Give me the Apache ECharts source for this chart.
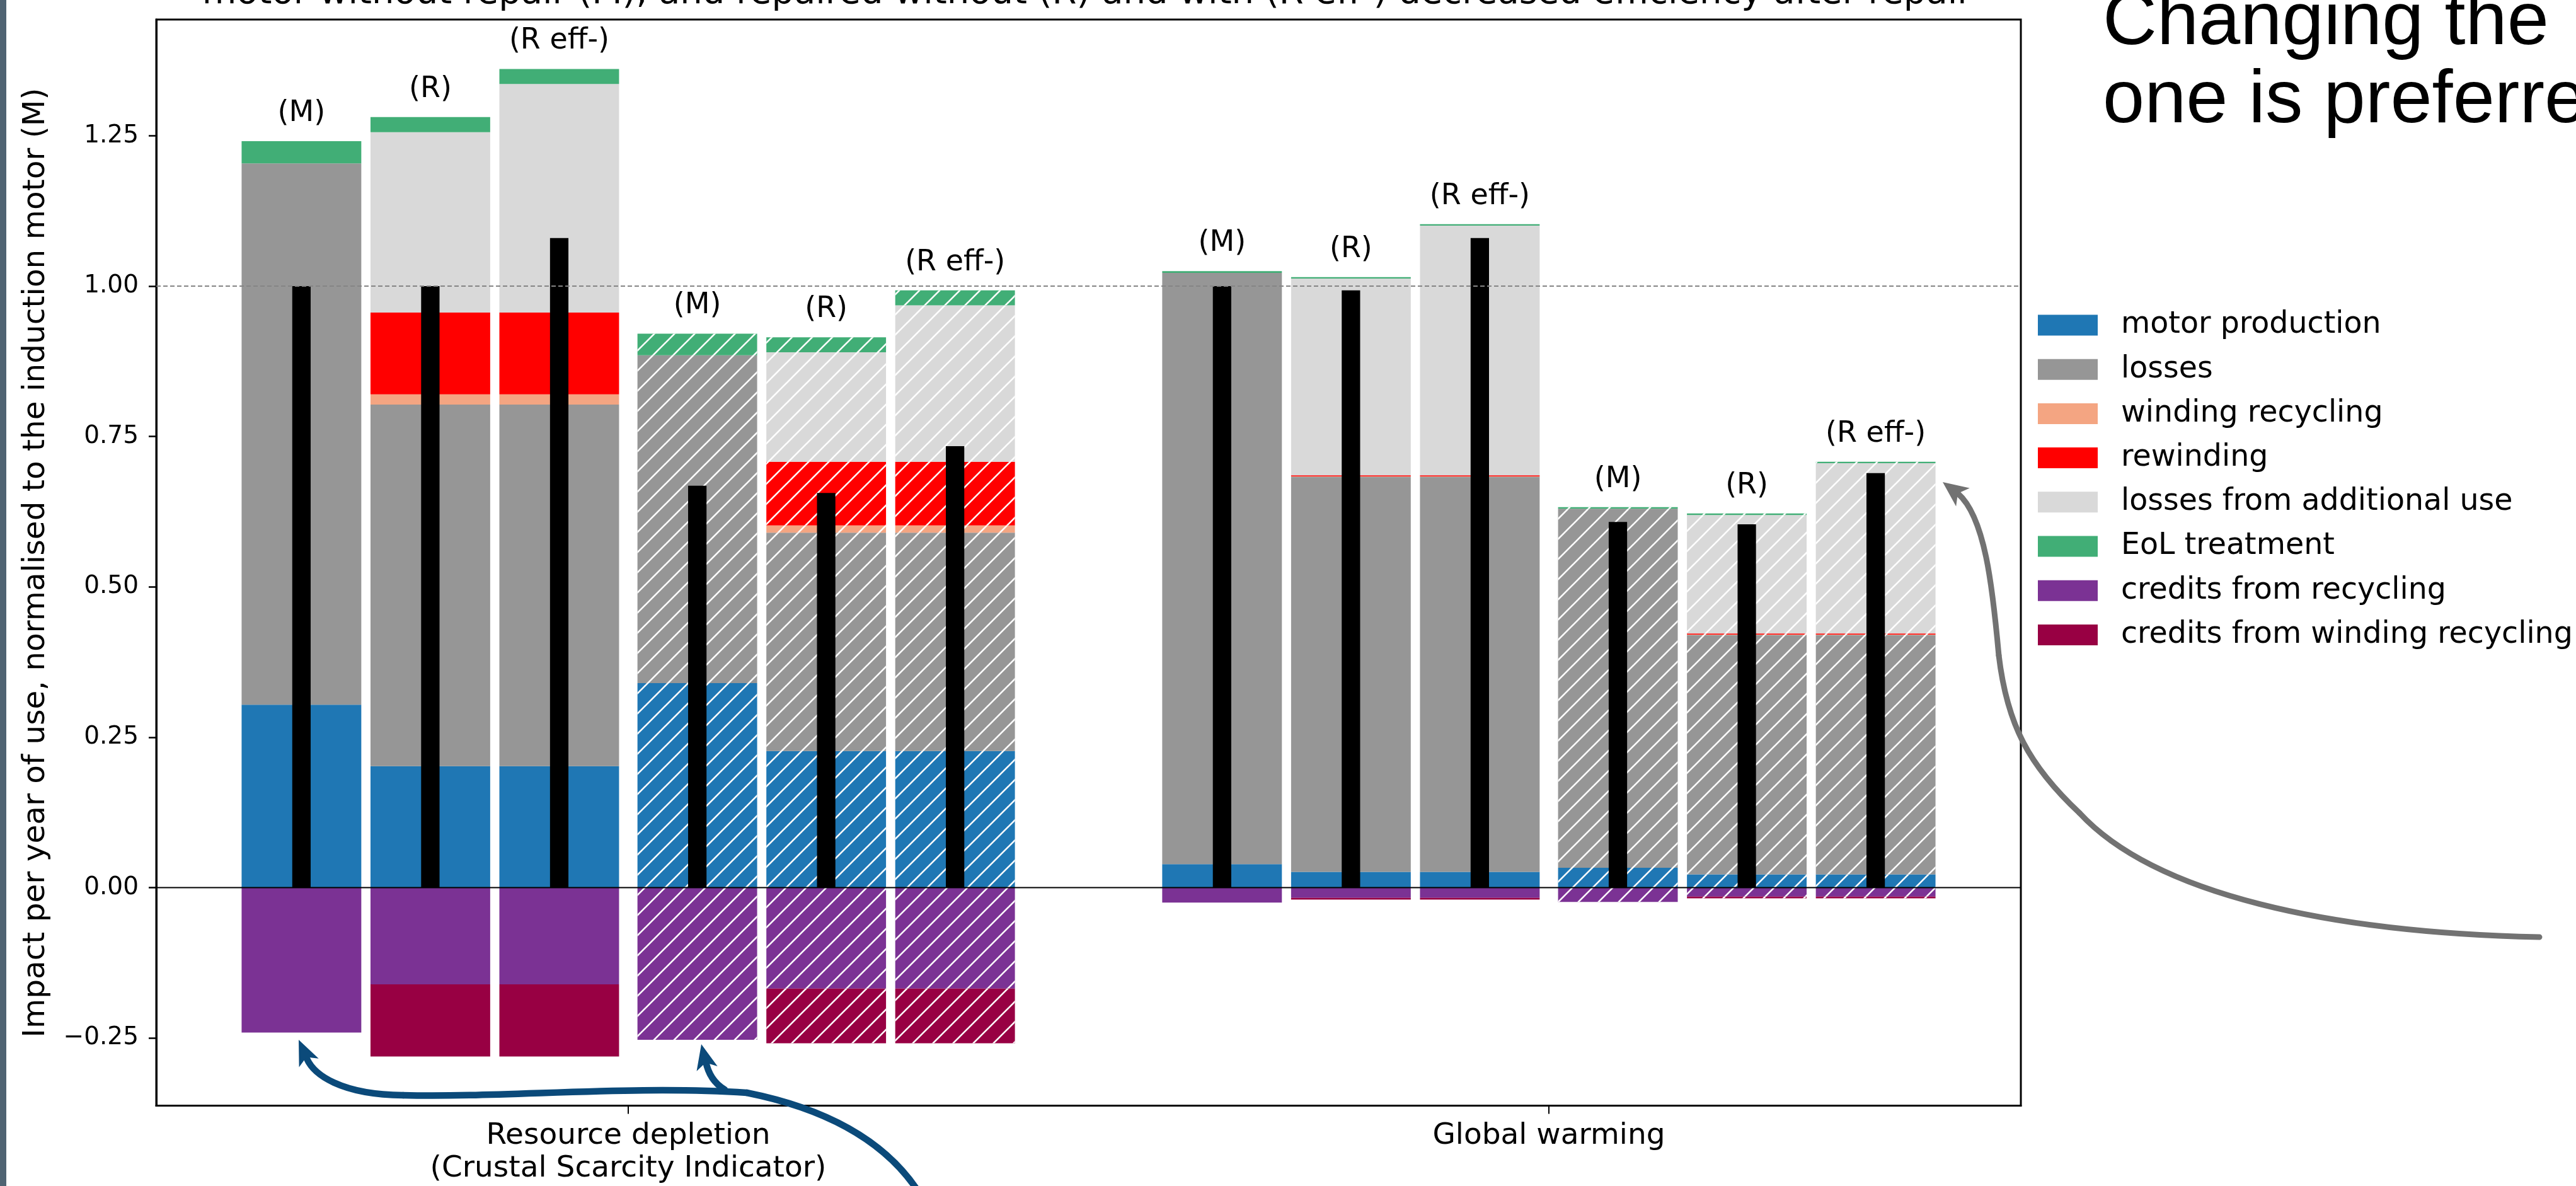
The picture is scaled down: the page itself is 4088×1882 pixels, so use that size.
<!DOCTYPE html>
<html>
<head>
<meta charset="utf-8">
<script src="https://cdn.jsdelivr.net/npm/echarts@6/dist/echarts.min.js"></script>
<style>
  html, body { margin: 0; padding: 0; background: #ffffff; }
  #chart { width: 4088px; height: 1882px; }
</style>
</head>
<body>
<div id="chart"></div>
<script>
// ---- data -------------------------------------------------------------
// Two impact categories, each with six bars: (M), (R), (R eff-) solid, then the same three hatched.
const impactCategories = ['Resource depletion\n(Crustal Scarcity Indicator)', 'Global warming'];
const scenarioLabels = ['(M)', '(R)', '(R eff-)', '(M)', '(R)', '(R eff-)'];
const hatchedScenario = [false, false, false, true, true, true];

// Contributions per bar (Resource depletion bars 1-6, then Global warming bars 1-6)
const motorProduction        = [0.304, 0.202, 0.202, 0.340, 0.227, 0.227, 0.039, 0.026, 0.026, 0.033, 0.022, 0.022];
const losses                 = [0.900, 0.601, 0.601, 0.545, 0.363, 0.363, 0.983, 0.657, 0.657, 0.597, 0.398, 0.398];
const windingRecycling       = [0, 0.017, 0.017, 0, 0.012, 0.012, 0, 0.0005, 0.0005, 0, 0.0005, 0.0005];
const rewinding              = [0, 0.136, 0.136, 0, 0.106, 0.106, 0, 0.002, 0.002, 0, 0.002, 0.002];
const lossesAdditionalUse    = [0, 0.300, 0.380, 0, 0.182, 0.260, 0, 0.327, 0.415, 0, 0.197, 0.283];
const eolTreatment           = [0.037, 0.025, 0.025, 0.036, 0.025, 0.025, 0.003, 0.0025, 0.0025, 0.0025, 0.0025, 0.0025];
const creditsRecycling       = [-0.241, -0.161, -0.161, -0.253, -0.168, -0.168, -0.025, -0.017, -0.017, -0.024, -0.015, -0.015];
const creditsWindingRecycling= [0, -0.120, -0.120, 0, -0.091, -0.091, 0, -0.003, -0.003, 0, -0.003, -0.003];
// Net impact (black bars)
const netImpact              = [1.000, 1.000, 1.080, 0.668, 0.656, 0.734, 1.000, 0.993, 1.080, 0.608, 0.604, 0.689];

const yTickValues = [-0.25, 0, 0.25, 0.5, 0.75, 1.0, 1.25];
const yTickLabels = ['\u22120.25', '0.00', '0.25', '0.50', '0.75', '1.00', '1.25'];

// ---- layout -----------------------------------------------------------
const X_MIN = -0.5127, X_MAX = 1.5127;
const Y_MIN = -0.3626, Y_MAX = 1.4432;
const SLOT_OFFSETS = [-0.355, -0.215, -0.075, 0.075, 0.215, 0.355];
const BAR_WIDTH = 0.13;
const NET_BAR_WIDTH = 0.02;
const FONT = '"DejaVu Sans", sans-serif';

const components = [
  { name: 'motor production',               values: motorProduction,         color: '#1f77b4', negative: false },
  { name: 'losses',                          values: losses,                  color: '#969696', negative: false },
  { name: 'winding recycling',               values: windingRecycling,        color: '#f4a582', negative: false },
  { name: 'rewinding',                       values: rewinding,               color: '#ff0000', negative: false },
  { name: 'losses from additional use',      values: lossesAdditionalUse,     color: '#d9d9d9', negative: false },
  { name: 'EoL treatment',                   values: eolTreatment,            color: '#41ae76', negative: false },
  { name: 'credits from recycling',          values: creditsRecycling,        color: '#7b3294', negative: true },
  { name: 'credits from winding recycling',  values: creditsWindingRecycling, color: '#980043', negative: true }
];

function barCenter(i) {
  return Math.floor(i / 6) + SLOT_OFFSETS[i % 6];
}

function stackBase(ci, i) {
  let base = 0;
  for (let k = 0; k < ci; k++) {
    if (components[k].negative === components[ci].negative) base += components[k].values[i];
  }
  return base;
}

function positiveTop(i) {
  let top = 0;
  components.forEach(c => { if (!c.negative) top += c.values[i]; });
  return top;
}

// white '/' hatch tile
function makeHatch() {
  const size = 32;
  const cv = document.createElement('canvas');
  cv.width = size; cv.height = size;
  const ctx = cv.getContext('2d');
  ctx.strokeStyle = '#ffffff';
  ctx.lineWidth = 2.6;
  for (const o of [-size, 0, size]) {
    ctx.beginPath();
    ctx.moveTo(o - 3, size + 3);
    ctx.lineTo(o + size + 3, -3);
    ctx.stroke();
  }
  return cv;
}
const hatchTile = makeHatch();

function rectBetween(api, xc, width, y0, y1) {
  const a = api.coord([xc - width / 2, y0]);
  const b = api.coord([xc + width / 2, y1]);
  return {
    x: Math.min(a[0], b[0]),
    y: Math.min(a[1], b[1]),
    width: Math.abs(b[0] - a[0]),
    height: Math.abs(b[1] - a[1])
  };
}

const componentSeries = components.map((comp, ci) => ({
  type: 'custom',
  name: comp.name,
  z: 2,
  itemStyle: { color: comp.color },
  encode: { x: 0, y: 1 },
  data: comp.values.map((v, i) => [barCenter(i), v]),
  renderItem: function (params, api) {
    const i = params.dataIndex;
    const v = comp.values[i];
    if (!v) return null;
    const base = stackBase(ci, i);
    const shape = rectBetween(api, api.value(0), BAR_WIDTH, base, base + v);
    const children = [{ type: 'rect', shape: shape, style: { fill: comp.color } }];
    if (hatchedScenario[i % 6]) {
      children.push({ type: 'rect', shape: shape, style: { fill: { image: hatchTile, repeat: 'repeat' } } });
    }
    return { type: 'group', children: children };
  }
}));

const netSeries = {
  type: 'custom',
  name: 'net impact',
  z: 4,
  itemStyle: { color: '#000000' },
  encode: { x: 0, y: 1 },
  data: netImpact.map((v, i) => [barCenter(i), v]),
  renderItem: function (params, api) {
    const shape = rectBetween(api, api.value(0), NET_BAR_WIDTH, 0, api.value(1));
    return { type: 'rect', shape: shape, style: { fill: '#000000' } };
  }
};

const labelSeries = {
  type: 'custom',
  name: 'scenario labels',
  z: 5,
  encode: { x: 0, y: 1 },
  data: netImpact.map((v, i) => [barCenter(i), positiveTop(i)]),
  renderItem: function (params, api) {
    const i = params.dataIndex;
    const p = api.coord([api.value(0), api.value(1)]);
    return {
      type: 'text',
      x: p[0],
      y: p[1] - 44,
      style: {
        text: scenarioLabels[i % 6],
        fill: '#000000',
        font: '46px ' + FONT,
        align: 'center', verticalAlign: 'middle',
        textAlign: 'center', textVerticalAlign: 'middle'
      }
    };
  }
};

const referenceSeries = {
  type: 'custom',
  name: 'reference lines',
  z: 6,
  encode: { x: 0, y: 1 },
  data: [[0, 0]],
  renderItem: function (params, api) {
    const z0 = api.coord([X_MIN, 0]), z1 = api.coord([X_MAX, 0]);
    const o0 = api.coord([X_MIN, 1]), o1 = api.coord([X_MAX, 1]);
    return {
      type: 'group',
      children: [
        { type: 'line', shape: { x1: z0[0], y1: z0[1], x2: z1[0], y2: z1[1] }, style: { stroke: '#000000', lineWidth: 2 } },
        { type: 'line', shape: { x1: o0[0], y1: o0[1], x2: o1[0], y2: o1[1] }, style: { stroke: '#858585', lineWidth: 2, lineDash: [7, 4] } }
      ]
    };
  }
};

// ---- annotation arrows -----------------------------------------------
function arrowHead(tip, dir, len, half, notch) {
  const n = Math.hypot(dir[0], dir[1]);
  const dx = dir[0] / n, dy = dir[1] / n, px = -dy, py = dx;
  return [
    [tip[0], tip[1]],
    [tip[0] - len * dx + half * px, tip[1] - len * dy + half * py],
    [tip[0] - (len - notch) * dx, tip[1] - (len - notch) * dy],
    [tip[0] - len * dx - half * px, tip[1] - len * dy - half * py]
  ];
}
// cubic segment [start, control1, control2, end]
function curve(seg, color, width) {
  return {
    type: 'bezierCurve', z: 100,
    shape: {
      x1: seg[0][0], y1: seg[0][1],
      cpx1: seg[1][0], cpy1: seg[1][1],
      cpx2: seg[2][0], cpy2: seg[2][1],
      x2: seg[3][0], y2: seg[3][1]
    },
    style: { fill: null, stroke: color, lineWidth: width, lineCap: 'round' }
  };
}
const BLUE = '#0b4a7a';
const GREY = '#727272';

const blueArrowSegments = [
  [[487, 1680], [498, 1705], [540, 1737], [640, 1738]],
  [[640, 1738], [800, 1742], [1000, 1722], [1185, 1734]],
  [[1185, 1734], [1290, 1755], [1400, 1800], [1460, 1895]],
  [[1150, 1729], [1135, 1720], [1124, 1705], [1120, 1684]]
];
const greyArrowSegments = [
  [[4030, 1487], [3700, 1480], [3420, 1420], [3300, 1290]],
  [[3300, 1290], [3220, 1215], [3185, 1150], [3172, 1040]],
  [[3172, 1040], [3162, 930], [3150, 820], [3107, 783]]
];

const graphics = [
  { type: 'rect', z: 100, shape: { x: 0, y: 0, width: 10, height: 1882 }, style: { fill: '#4f6372' } },
  {
    type: 'text', z: 100, x: 1725, y: -10,
    style: {
      text: 'motor without repair (M), and repaired without (R) and with (R eff-) decreased efficiency after repair',
      font: '56px ' + FONT, fill: '#000000',
      align: 'center', verticalAlign: 'middle', textAlign: 'center', textVerticalAlign: 'middle'
    }
  },
  {
    type: 'text', z: 100, x: 57, y: 893, rotation: Math.PI / 2,
    style: {
      text: 'Impact per year of use, normalised to the induction motor (M)',
      font: '48.5px ' + FONT, fill: '#000000',
      align: 'center', verticalAlign: 'middle', textAlign: 'center', textVerticalAlign: 'middle'
    }
  },
  {
    type: 'text', z: 100, x: 3337, y: 37,
    style: { text: 'Changing the', font: '119px "Liberation Sans", Arial, sans-serif', fill: '#000000',
      align: 'left', verticalAlign: 'middle', textAlign: 'left', textVerticalAlign: 'middle' }
  },
  {
    type: 'text', z: 100, x: 3337, y: 161,
    style: { text: 'one is preferred', font: '119px "Liberation Sans", Arial, sans-serif', fill: '#000000',
      align: 'left', verticalAlign: 'middle', textAlign: 'left', textVerticalAlign: 'middle' }
  }
]
  .concat(blueArrowSegments.map(s => curve(s, BLUE, 10.5)))
  .concat([
    { type: 'polygon', z: 101, shape: { points: arrowHead([474, 1650], [-19, -43], 40, 17, 10) }, style: { fill: BLUE } },
    { type: 'polygon', z: 101, shape: { points: arrowHead([1113, 1657], [-7, -30], 40, 17, 10) }, style: { fill: BLUE } }
  ])
  .concat(greyArrowSegments.map(s => curve(s, GREY, 9)))
  .concat([
    { type: 'polygon', z: 101, shape: { points: arrowHead([3083, 765], [-0.8, -0.6], 40, 18, 10) }, style: { fill: GREY } }
  ]);

// ---- chart ------------------------------------------------------------
const chart = echarts.init(document.getElementById('chart'), null, { renderer: 'canvas' });
chart.setOption({
  animation: false,
  backgroundColor: '#ffffff',
  grid: {
    left: 248, top: 31, width: 2959, height: 1723.5,
    show: true, borderColor: '#000000', borderWidth: 3, backgroundColor: 'transparent',
    containLabel: false, outerBoundsMode: 'none'
  },
  xAxis: {
    type: 'value', min: X_MIN, max: X_MAX,
    axisLine: { show: true, onZero: false, lineStyle: { color: '#000000', width: 3 } },
    splitLine: { show: false },
    axisTick: { show: true, customValues: [0, 1], length: 13, lineStyle: { color: '#000000', width: 2 } },
    axisLabel: {
      show: true, customValues: [0, 1], margin: 22,
      formatter: v => impactCategories[Math.round(v)],
      fontFamily: FONT, fontSize: 47, lineHeight: 52, color: '#000000', align: 'center'
    }
  },
  yAxis: {
    type: 'value', min: Y_MIN, max: Y_MAX,
    axisLine: { show: true, onZero: false, lineStyle: { color: '#000000', width: 3 } },
    splitLine: { show: false },
    axisTick: { show: true, customValues: yTickValues, length: 12, lineStyle: { color: '#000000', width: 2.5 } },
    axisLabel: {
      show: true, customValues: yTickValues, margin: 28,
      formatter: v => {
        const k = yTickValues.findIndex(t => Math.abs(t - v) < 1e-9);
        return k >= 0 ? yTickLabels[k] : '';
      },
      fontFamily: FONT, fontSize: 39, color: '#000000'
    }
  },
  legend: {
    data: components.map(c => c.name),
    orient: 'vertical',
    left: 3234, top: 492,
    padding: 0,
    icon: 'rect',
    itemWidth: 95, itemHeight: 33, itemGap: 22.2,
    selectedMode: false,
    textStyle: { fontFamily: FONT, fontSize: 47.5, color: '#000000', lineHeight: 33, padding: [0, 0, 0, 32] }
  },
  series: componentSeries.concat([netSeries, labelSeries, referenceSeries]),
  graphic: graphics
});
</script>
</body>
</html>
